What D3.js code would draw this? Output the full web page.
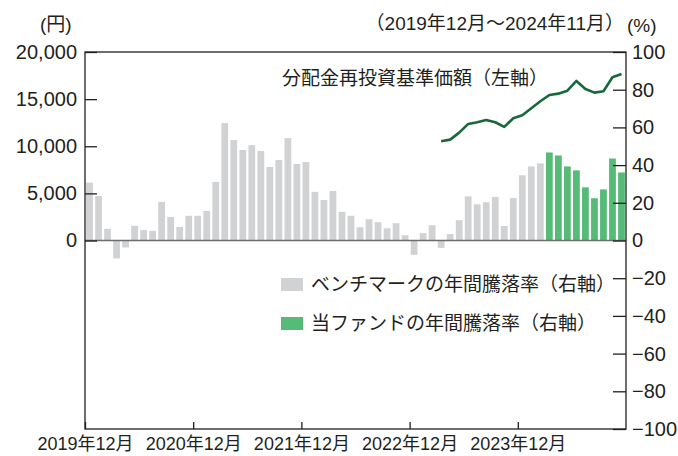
<!DOCTYPE html>
<html>
<head>
<meta charset="utf-8">
<script src="https://cdn.jsdelivr.net/npm/d3@7"></script>
<style>
  body { margin: 0; background: #fff; }
  svg text { font-family: "Liberation Sans", "Noto Sans CJK JP", sans-serif; fill: #231f20; }
  .jp { font-family: "Noto Sans CJK JP", sans-serif; }
</style>
</head>
<body>
<div class="chart"></div>
<script>
// DATA ------------------------------------

const months = [
  "2019-12",
  "2020-01", "2020-02", "2020-03", "2020-04", "2020-05", "2020-06",
  "2020-07", "2020-08", "2020-09", "2020-10", "2020-11", "2020-12",
  "2021-01", "2021-02", "2021-03", "2021-04", "2021-05", "2021-06",
  "2021-07", "2021-08", "2021-09", "2021-10", "2021-11", "2021-12",
  "2022-01", "2022-02", "2022-03", "2022-04", "2022-05", "2022-06",
  "2022-07", "2022-08", "2022-09", "2022-10", "2022-11", "2022-12",
  "2023-01", "2023-02", "2023-03", "2023-04", "2023-05", "2023-06",
  "2023-07", "2023-08", "2023-09", "2023-10", "2023-11", "2023-12",
  "2024-01", "2024-02", "2024-03", "2024-04", "2024-05", "2024-06",
  "2024-07", "2024-08", "2024-09", "2024-10", "2024-11"
];

// benchmark annual return (%), 2019-12 .. 2024-02
const benchmarkReturn = [
  30.7, 23.6, 6.2, -9.5, -3.7, 7.8, 5.6, 5.1, 20.5, 12.5,
  7.2, 13.1, 13.1, 15.7, 31.1, 62.3, 53.3, 48.0, 50.6, 47.5,
  39.0, 42.7, 54.3, 40.6, 41.6, 25.8, 21.5, 26.3, 15.2, 13.1,
  7.0, 11.3, 9.7, 6.5, 9.2, 2.8, -7.6, 3.9, 8.1, -3.9,
  3.4, 10.8, 23.4, 19.2, 20.3, 23.1, 7.7, 22.5, 34.6, 39.3, 40.9
];

// fund annual return (%), 2024-03 .. 2024-11
const fundReturn = [46.7, 45.1, 39.3, 37.2, 28.2, 22.4, 27.1, 43.5, 36.1];

// NAV with dividends reinvested (yen), 2023-03 .. 2024-11
const navValues = [
  10535, 10705, 11447, 12369, 12549, 12793, 12549, 12051, 12973, 13291,
  14033, 14775, 15443, 15581, 15899, 16927, 16078, 15687, 15835, 17319, 17669
];

const xTickMonths = ["2019-12", "2020-12", "2021-12", "2022-12", "2023-12"];
const xTickLabels = ["2019年12月", "2020年12月", "2021年12月", "2022年12月", "2023年12月"];
const leftTicks = [0, 5000, 10000, 15000, 20000];
const rightTicks = [100, 80, 60, 40, 20, 0, -20, -40, -60, -80, -100];

// CHART INIT ------------------------------

const margin = { top: 52, left: 85, right: 52, bottom: 27 };
const totalWidth = 678;
const totalHeight = 456;
const width = totalWidth - margin.left - margin.right,
  height = totalHeight - margin.top - margin.bottom;

const svg = d3
  .select(".chart")
  .append("svg")
  .attr("width", totalWidth)
  .attr("height", totalHeight)
  .append("g")
  .attr("transform", "translate(" + margin.left + "," + margin.top + ")");

const pad = 0.25;
const xScale = d3.scaleBand().domain(months).range([0, width])
  .paddingInner(pad).paddingOuter(pad / 2);
// left boundary of a month's slot
const edge = (m) => xScale(m) - (xScale.step() * pad) / 2;

const yLeft = d3.scaleLinear().domain([-20000, 20000]).range([height, 0]);
const yRight = d3.scaleLinear().domain([-100, 100]).range([height, 0]);

const grey = "#d1d2d4";
const green = "#55bb77";
const ink = "#231f20";

// bars
const benchData = benchmarkReturn.map((v, i) => ({ m: months[i], v }));
const fundData = fundReturn.map((v, i) => ({ m: months[months.length - fundReturn.length + i], v }));

function drawBars(data, color) {
  svg.append("g")
    .selectAll("rect")
    .data(data)
    .enter()
    .append("rect")
    .attr("x", (d) => xScale(d.m))
    .attr("width", xScale.bandwidth())
    .attr("y", (d) => yRight(Math.max(0, d.v)))
    .attr("height", (d) => Math.abs(yRight(d.v) - yRight(0)))
    .attr("fill", color);
}
drawBars(benchData, grey);
drawBars(fundData, green);

// zero line
svg.append("line")
  .attr("x1", 0).attr("x2", width)
  .attr("y1", yRight(0)).attr("y2", yRight(0))
  .attr("stroke", "#6d6e70").attr("stroke-width", 1.6);

// NAV line
const navMonths = months.slice(months.length - navValues.length);
const line = d3.line()
  .x((d, i) => xScale(navMonths[i]) + xScale.bandwidth() / 2)
  .y((d) => yLeft(d));
svg.append("path")
  .datum(navValues)
  .attr("d", line)
  .attr("fill", "none")
  .attr("stroke", "#17683a")
  .attr("stroke-width", 2.6)
  .attr("stroke-linejoin", "round");

// frame
svg.append("rect")
  .attr("width", width).attr("height", height)
  .attr("fill", "none").attr("stroke", ink).attr("stroke-width", 1.3);

// axes
const fmt = d3.format(",");
const leftAxis = d3.axisLeft(yLeft).tickValues(leftTicks).tickFormat(fmt).tickSize(-12).tickPadding(8);
const rightAxis = d3.axisRight(yRight).tickValues(rightTicks).tickSize(-13).tickPadding(6);
const bottomAxis = d3.axisBottom(d3.scaleLinear().domain([0, width]).range([0, width]))
  .tickValues(xTickMonths.map(edge))
  .tickFormat((d, i) => xTickLabels[i])
  .tickSize(-7).tickPadding(8);

function styleAxis(g) {
  g.select(".domain").remove();
  g.selectAll("line").attr("stroke", ink).attr("stroke-width", 1.3);
  g.selectAll("text").attr("fill", ink);
}

svg.append("g").attr("class", "axis y-left").call(leftAxis).call(styleAxis)
  .selectAll("text").attr("font-size", 20).attr("font-family", null);
svg.append("g").attr("class", "axis y-right")
  .attr("transform", `translate(${width},0)`)
  .call(rightAxis).call(styleAxis)
  .selectAll("text").attr("font-size", 20).attr("font-family", null);
svg.append("g").attr("class", "axis x-axis")
  .attr("transform", `translate(0,${height})`)
  .call(bottomAxis).call(styleAxis)
  .selectAll("text").attr("font-size", 18).attr("font-family", null);

// titles
svg.append("text").attr("x", -45).attr("y", -21).attr("font-size", 19).text("(円)");
svg.append("text").attr("x", width - 2).attr("y", -22).attr("text-anchor", "end")
  .attr("font-size", 19).text("（2019年12月～2024年11月）");
svg.append("text").attr("x", width + 1).attr("y", -20).attr("font-size", 19).text("(%)");

svg.append("text").attr("class", "jp").attr("x", 197).attr("y", 33)
  .attr("font-size", 19).text("分配金再投資基準価額（左軸）");

// legend
const legend = [
  { label: "ベンチマークの年間騰落率（右軸）", color: grey },
  { label: "当ファンドの年間騰落率（右軸）", color: green }
];
const lg = svg.append("g").attr("transform", "translate(196,226)");
legend.forEach((d, i) => {
  lg.append("rect").attr("x", 0).attr("y", i * 39).attr("width", 22).attr("height", 13).attr("fill", d.color);
  lg.append("text").attr("class", "jp").attr("x", 30).attr("y", i * 39 + 13)
    .attr("font-size", 19).text(d.label);
});
</script>
</body>
</html>
